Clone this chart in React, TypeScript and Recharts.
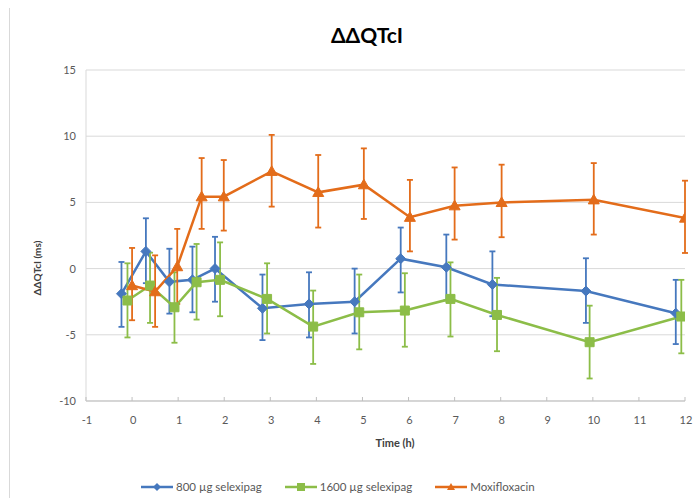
import React from 'react';
import { ComposedChart, Line, XAxis, YAxis, CartesianGrid, ErrorBar } from 'recharts';

const xTicks = [-1, 0, 1, 2, 3, 4, 5, 6, 7, 8, 9, 10, 11, 12];
const yTicks = [-10, -5, 0, 5, 10, 15];

const seriesNames = ['800 µg selexipag', '1600 µg selexipag', 'Moxifloxacin'];

const times800 = [-0.23, 0.3, 0.81, 1.31, 1.8, 2.83, 3.84, 4.83, 5.83, 6.82, 7.82, 9.85, 11.8];
const mean800 = [-1.9, 1.3, -1.0, -0.85, 0.0, -3.0, -2.67, -2.5, 0.75, 0.1, -1.2, -1.7, -3.37];
const low800 = [-4.4, -1.1, -3.4, -3.3, -2.5, -5.4, -5.2, -4.9, -1.8, -2.4, -3.6, -4.1, -5.7];
const high800 = [0.5, 3.8, 1.5, 1.66, 2.4, -0.45, -0.28, 0.0, 3.1, 2.57, 1.3, 0.78, -0.85];

const times1600 = [-0.1, 0.39, 0.92, 1.4, 1.91, 2.93, 3.93, 4.93, 5.92, 6.91, 7.92, 9.93, 11.92];
const mean1600 = [-2.41, -1.28, -2.92, -1.03, -0.85, -2.29, -4.38, -3.3, -3.17, -2.29, -3.5, -5.56, -3.62];
const low1600 = [-5.2, -4.1, -5.6, -3.85, -3.6, -4.9, -7.2, -6.1, -5.9, -5.13, -6.24, -8.3, -6.4];
const high1600 = [0.4, 1.2, -0.28, 1.86, 1.98, 0.4, -1.66, -0.45, -0.35, 0.47, -0.7, -2.8, -0.85];

const timesMoxi = [0, 0.5, 0.98, 1.51, 1.99, 3.03, 4.04, 5.03, 6.03, 7.0, 8.02, 10.02, 12.0];
const meanMoxi = [-1.28, -1.74, 0.15, 5.43, 5.43, 7.35, 5.76, 6.34, 3.88, 4.75, 5.0, 5.2, 3.82];
const lowMoxi = [-3.9, -4.4, -2.67, 3.0, 2.87, 4.68, 3.1, 3.75, 1.3, 2.19, 2.37, 2.57, 1.18];
const highMoxi = [1.56, 1.0, 3.0, 8.35, 8.2, 10.1, 8.58, 9.08, 6.7, 7.64, 7.85, 7.97, 6.64];

const BLUE = '#4678BE';
const GREEN = '#8CBD48';
const ORANGE = '#E36C1A';
const FONT = 'Lato, "Open Sans", sans-serif';

const build = (t: number[], m: number[], lo: number[], hi: number[]) =>
  t.map((x, i) => ({ t: x, v: m[i], err: [m[i] - lo[i], hi[i] - m[i]] }));

const data800 = build(times800, mean800, low800, high800);
const data1600 = build(times1600, mean1600, low1600, high1600);
const dataMoxi = build(timesMoxi, meanMoxi, lowMoxi, highMoxi);

const diamondPath = (cx: number, cy: number, r: number) =>
  `M${cx},${cy - r}L${cx + r},${cy}L${cx},${cy + r}L${cx - r},${cy}Z`;
const squarePath = (cx: number, cy: number, r: number) =>
  `M${cx - r},${cy - r}L${cx + r},${cy - r}L${cx + r},${cy + r}L${cx - r},${cy + r}Z`;
const trianglePath = (cx: number, cy: number, r: number) =>
  `M${cx},${cy - r}L${cx + r},${cy + r * 0.75}L${cx - r},${cy + r * 0.75}Z`;

const makeDot = (shape: (cx: number, cy: number, r: number) => string, r: number, color: string) =>
  (props: any) => {
    const { cx, cy, index } = props;
    if (cx == null || cy == null) return <g key={`e-${index}`} />;
    return <path key={`d-${index}`} d={shape(cx, cy, r)} fill={color} stroke={color} strokeWidth={1} />;
  };

const XTick = (props: any) => {
  const { x, y, payload } = props;
  return (
    <g>
      <line x1={x} x2={x} y1={y - 4} y2={y} stroke="#bfbfbf" strokeWidth={1} />
      <text x={x + 1} y={y + 23} textAnchor="middle" fontSize={11} fill="#595959" fontFamily={FONT}>
        {payload.value}
      </text>
    </g>
  );
};

const LegendItem = ({ color, shape, label }: { color: string; shape: (cx: number, cy: number, r: number) => string; label: string }) => (
  <div style={{ display: 'flex', alignItems: 'center', marginRight: 22 }}>
    <svg width={34} height={12} style={{ marginRight: 2 }}>
      <line x1={1} x2={33} y1={6} y2={6} stroke={color} strokeWidth={2.5} />
      <path d={shape(17, 6, 4)} fill={color} />
    </svg>
    <span style={{ fontSize: 11.5, color: '#595959', fontFamily: FONT }}>{label}</span>
  </div>
);

export default function App() {
  return (
    <div style={{ position: 'absolute', left: 0, top: 0, width: 694, height: 498, background: '#fff', overflow: 'hidden' }}>
      <div style={{ position: 'absolute', left: 9, top: 8, width: 1, height: 490, background: '#d9d9d9' }} />
      <div
        style={{
          position: 'absolute',
          top: 22,
          left: 0,
          width: 694,
          textAlign: 'center',
          fontFamily: FONT,
          fontWeight: 700,
          fontSize: 21,
          color: '#000',
          paddingLeft: 40,
          boxSizing: 'border-box',
        }}
      >
        ΔΔQTcI
      </div>
      <div
        style={{
          position: 'absolute',
          left: 37,
          top: 268,
          transform: 'translate(-50%, -50%) rotate(-90deg)',
          whiteSpace: 'nowrap',
          fontFamily: FONT,
          fontWeight: 700,
          fontSize: 10,
          color: '#404040',
        }}
      >
        ΔΔQTcI (ms)
      </div>
      <ComposedChart width={694} height={498} margin={{ top: 70, right: 9, bottom: 67, left: 36 }}>
        <CartesianGrid vertical={false} stroke="#d9d9d9" strokeWidth={1} />
        <XAxis
          type="number"
          dataKey="t"
          domain={[-1, 12]}
          ticks={xTicks}
          interval={0}
          allowDataOverflow
          axisLine={{ stroke: '#bfbfbf' }}
          tickLine={false}
          tickSize={0}
          tickMargin={0}
          tick={<XTick />}
          height={30}
        />
        <YAxis
          type="number"
          domain={[-10, 15]}
          ticks={yTicks}
          interval={0}
          allowDataOverflow
          width={50}
          axisLine={{ stroke: '#d9d9d9' }}
          tickLine={false}
          tickSize={0}
          tickMargin={10}
          tick={{ fontSize: 11, fill: '#595959', fontFamily: FONT }}
        />
        <Line
          data={data800}
          dataKey="v"
          name={seriesNames[0]}
          stroke={BLUE}
          strokeWidth={2.5}
          dot={makeDot(diamondPath, 5, BLUE)}
          activeDot={false}
          isAnimationActive={false}
        >
          <ErrorBar dataKey="err" direction="y" width={3} stroke={BLUE} strokeWidth={1.8} isAnimationActive={false} />
        </Line>
        <Line
          data={data1600}
          dataKey="v"
          name={seriesNames[1]}
          stroke={GREEN}
          strokeWidth={2.5}
          dot={makeDot(squarePath, 4.5, GREEN)}
          activeDot={false}
          isAnimationActive={false}
        >
          <ErrorBar dataKey="err" direction="y" width={3} stroke={GREEN} strokeWidth={1.8} isAnimationActive={false} />
        </Line>
        <Line
          data={dataMoxi}
          dataKey="v"
          name={seriesNames[2]}
          stroke={ORANGE}
          strokeWidth={2.5}
          dot={makeDot(trianglePath, 5.5, ORANGE)}
          activeDot={false}
          isAnimationActive={false}
        >
          <ErrorBar dataKey="err" direction="y" width={3} stroke={ORANGE} strokeWidth={1.8} isAnimationActive={false} />
        </Line>
      </ComposedChart>
      <div
        style={{
          position: 'absolute',
          left: 8,
          top: 436,
          width: 694,
          textAlign: 'center',
          fontFamily: FONT,
          fontWeight: 700,
          fontSize: 11,
          color: '#404040',
          paddingLeft: 80,
          boxSizing: 'border-box',
        }}
      >
        Time (h)
      </div>
      <div
        style={{
          position: 'absolute',
          left: 140,
          top: 480,
          display: 'flex',
          alignItems: 'center',
        }}
      >
        <LegendItem color={BLUE} shape={diamondPath} label={seriesNames[0]} />
        <LegendItem color={GREEN} shape={squarePath} label={seriesNames[1]} />
        <LegendItem color={ORANGE} shape={trianglePath} label={seriesNames[2]} />
      </div>
    </div>
  );
}
